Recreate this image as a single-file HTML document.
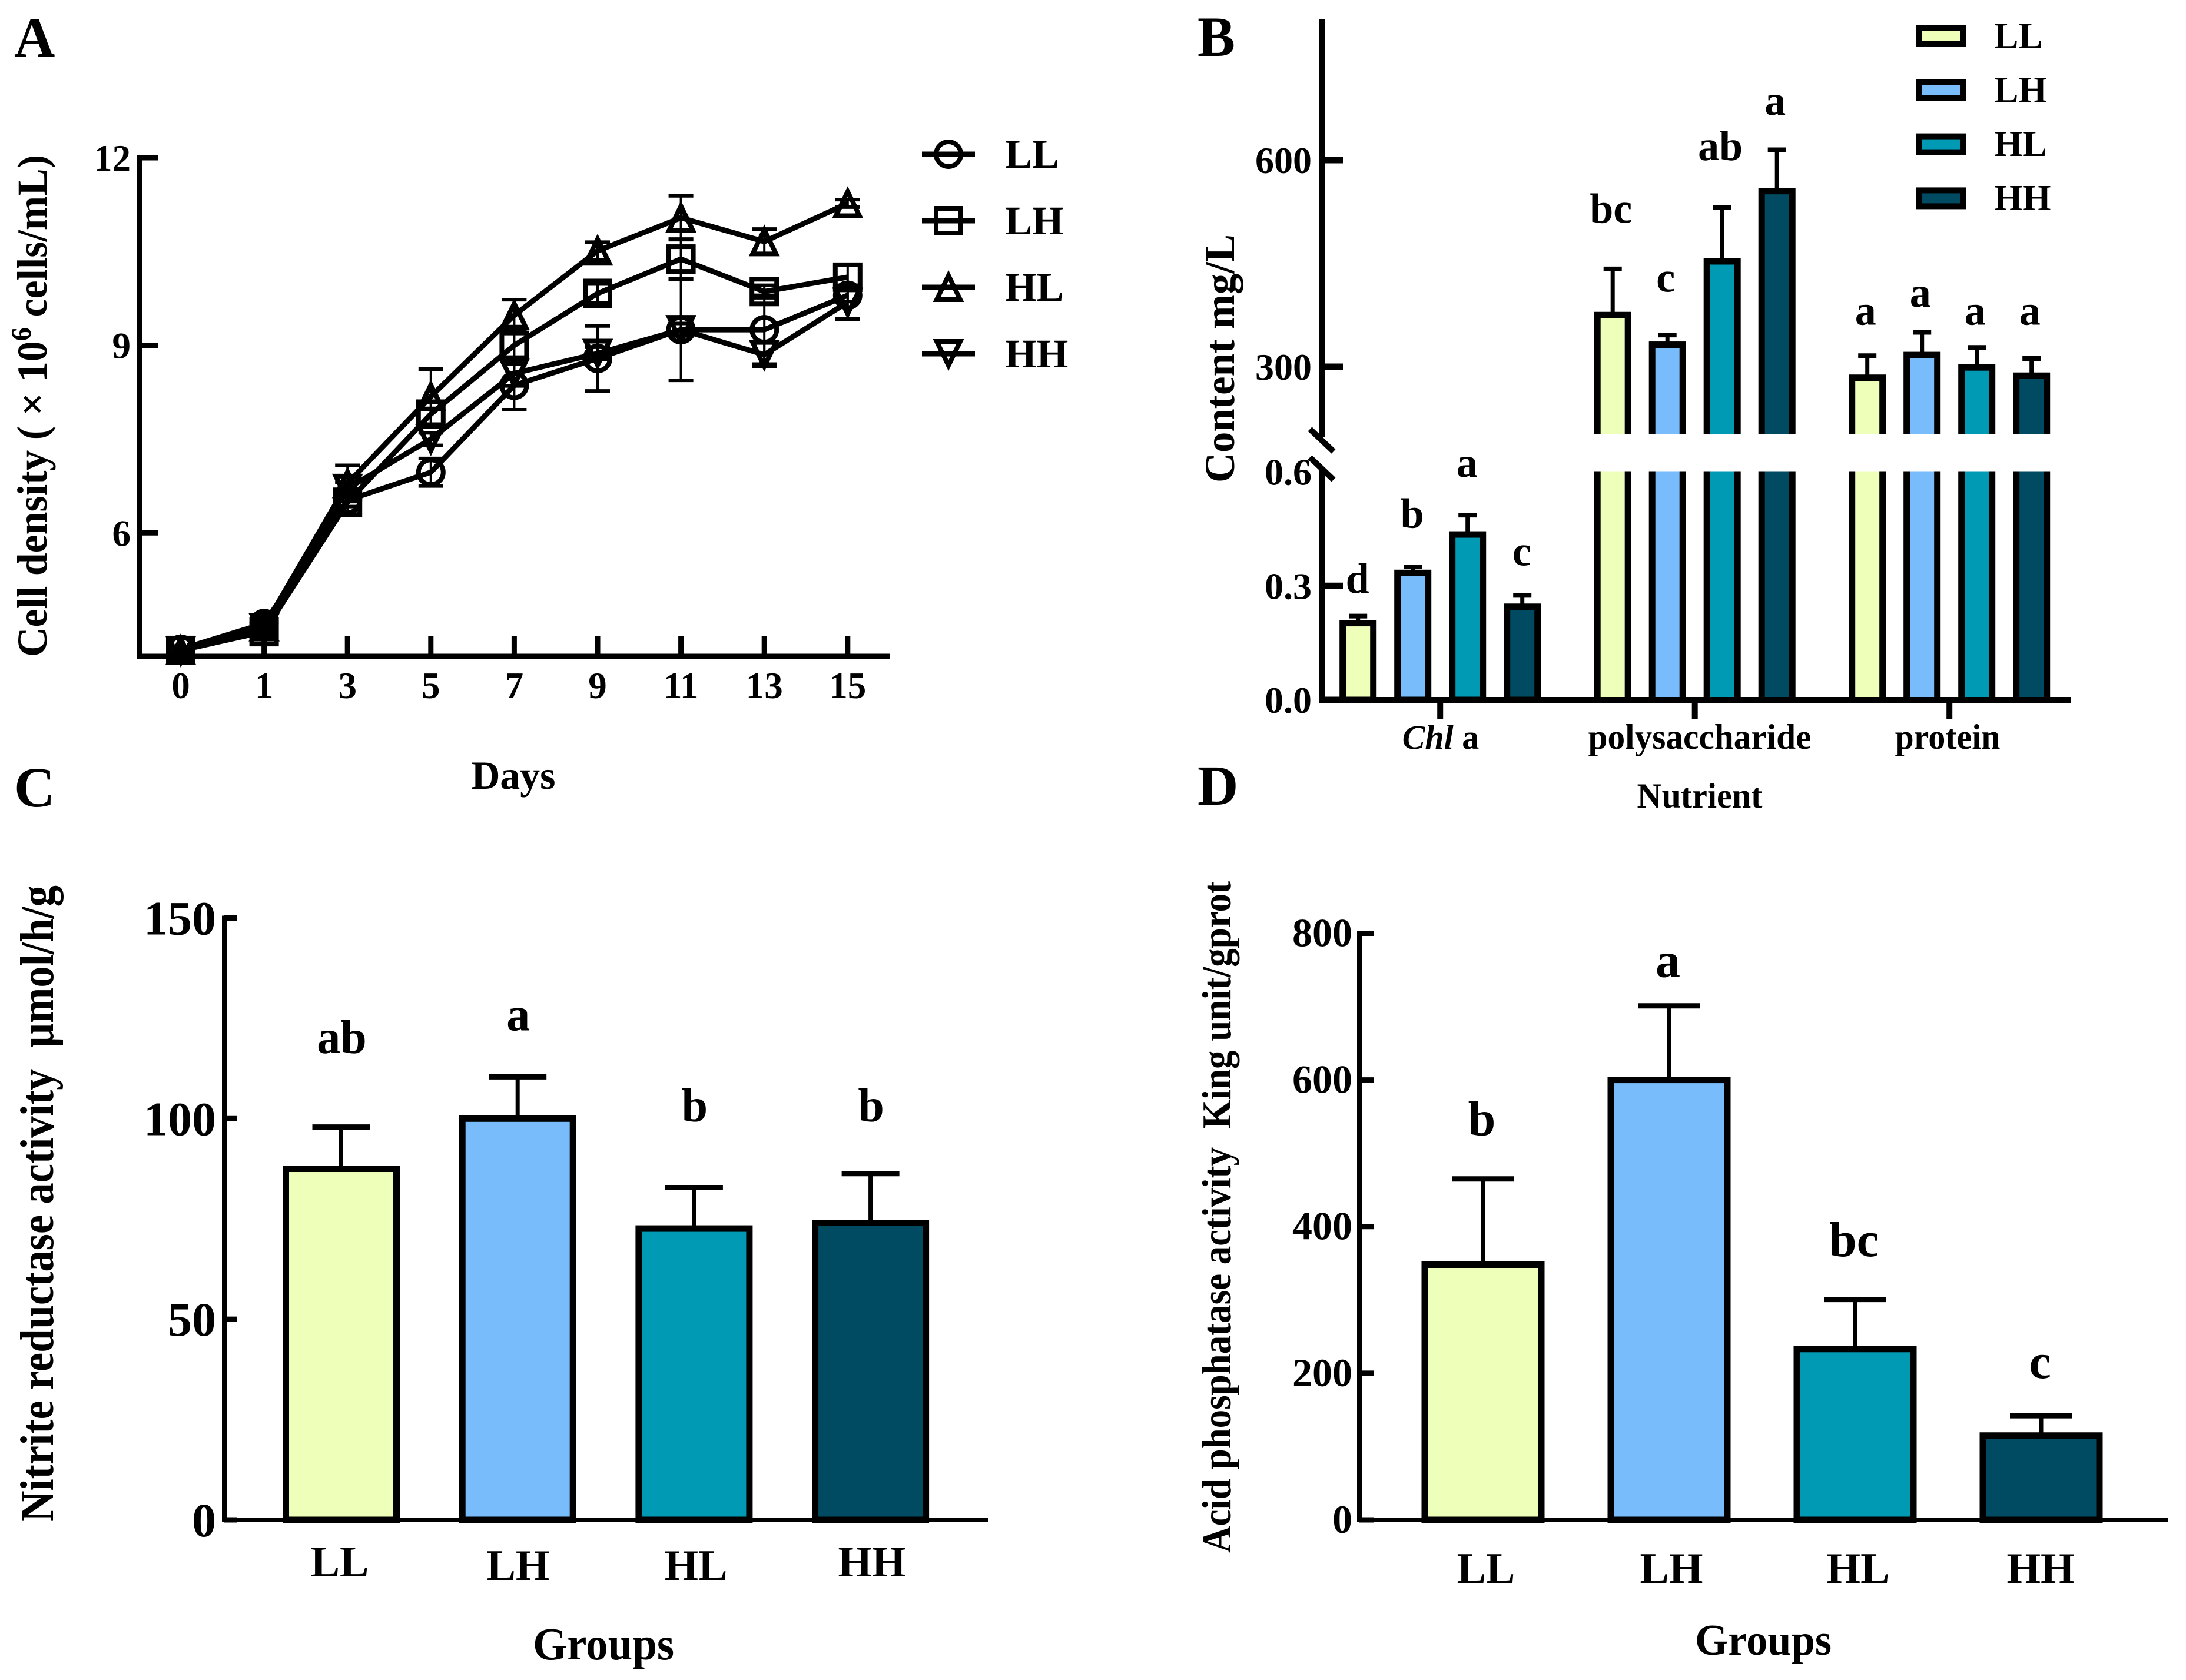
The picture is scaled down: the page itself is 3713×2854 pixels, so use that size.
<!DOCTYPE html>
<html lang="en">
<head>
<meta charset="utf-8">
<title>Cell density, nutrient content and enzyme activity by group</title>
<style>
  html, body { margin: 0; padding: 0; background: #fff; }
  svg { display: block; font-family: "Liberation Serif", "Times New Roman", serif; font-weight: bold; fill: #000; }
</style>
</head>
<body>
<svg id="figure" xmlns="http://www.w3.org/2000/svg" width="3713" height="2854" viewBox="0 0 3713 2854">
  <rect x="0" y="0" width="3713" height="2854" fill="#fff"/>

  <text x="24" y="96" font-size="96">A</text>
  <text x="2034" y="95" font-size="96">B</text>
  <text x="24" y="1370" font-size="96">C</text>
  <text x="2034" y="1367" font-size="96">D</text>

  <g id="panel-a">
    <text transform="translate(79,1116) rotate(-90)" font-size="72" textLength="853" lengthAdjust="spacingAndGlyphs">Cell density ( × 10<tspan font-size="48" dy="-27">6</tspan><tspan dy="27"> cells/mL)</tspan></text>
    <text x="872" y="1340" font-size="68" text-anchor="middle" textLength="143" lengthAdjust="spacingAndGlyphs">Days</text>
  </g>

  <g id="panel-b">
    <text transform="translate(2096,820) rotate(-90)" font-size="72" textLength="422" lengthAdjust="spacingAndGlyphs">Content mg/L</text>
    <text x="2447" y="1272" font-size="58" text-anchor="middle"><tspan font-style="italic">Chl</tspan> a</text>
    <text x="2887" y="1272" font-size="60" text-anchor="middle" textLength="379" lengthAdjust="spacingAndGlyphs">polysaccharide</text>
    <text x="3308" y="1272" font-size="60" text-anchor="middle" textLength="179" lengthAdjust="spacingAndGlyphs">protein</text>
    <text x="2887" y="1372" font-size="60" text-anchor="middle" textLength="213" lengthAdjust="spacingAndGlyphs">Nutrient</text>
  </g>

  <g id="panel-c">
    <text transform="translate(90,2585) rotate(-90)" font-size="80" textLength="1081" lengthAdjust="spacingAndGlyphs">Nitrite reductase activity&#160;&#160;μmol/h/g</text>
    <text x="577" y="2678" font-size="74" text-anchor="middle">LL</text>
    <text x="880" y="2684" font-size="74" text-anchor="middle">LH</text>
    <text x="1182" y="2684" font-size="74" text-anchor="middle">HL</text>
    <text x="1481" y="2678" font-size="74" text-anchor="middle">HH</text>
    <text x="1025" y="2819" font-size="78" text-anchor="middle" textLength="240" lengthAdjust="spacingAndGlyphs">Groups</text>
  </g>

  <g id="panel-d">
    <text transform="translate(2090,2638) rotate(-90)" font-size="70" textLength="1141" lengthAdjust="spacingAndGlyphs">Acid phosphatase activity&#160;&#160;King unit/gprot</text>
    <text x="2524" y="2689" font-size="74" text-anchor="middle">LL</text>
    <text x="2839" y="2689" font-size="74" text-anchor="middle">LH</text>
    <text x="3156" y="2689" font-size="74" text-anchor="middle">HL</text>
    <text x="3466" y="2689" font-size="74" text-anchor="middle">HH</text>
    <text x="2995" y="2811" font-size="74" text-anchor="middle" textLength="232" lengthAdjust="spacingAndGlyphs">Groups</text>
  </g>
</svg>

<script>
// ---------- Shared ----------
const groupNames = ['LL', 'LH', 'HL', 'HH'];
const groupColors = ['#edffb9', '#78bcfb', '#009ab5', '#004b62'];

// ---------- Panel A data ----------
const aDays = ['0', '1', '3', '5', '7', '9', '11', '13', '15'];
const aYTicks = [6, 9, 12];
const aMeanLL = [4.14, 4.55, 6.52, 6.97, 8.36, 8.79, 9.25, 9.25, 9.80];
const aMeanLH = [4.12, 4.42, 6.49, 7.90, 9.00, 9.83, 10.38, 9.86, 10.09];
const aMeanHL = [4.12, 4.50, 6.79, 8.18, 9.48, 10.51, 11.04, 10.66, 11.27];
const aMeanHH = [4.12, 4.48, 6.71, 7.50, 8.55, 8.87, 9.25, 8.85, 9.69];
const aErrLL = [0.04, 0.06, 0.10, 0.22, 0.39, 0.52, 0.81, 0.55, 0.10];
const aErrLH = [0.04, 0.08, 0.20, 0.20, 0.30, 0.15, 0.32, 0.10, 0.20];
const aErrHL = [0.04, 0.06, 0.29, 0.44, 0.25, 0.14, 0.35, 0.20, 0.06];
const aErrHH = [0.04, 0.06, 0.10, 0.10, 0.20, 0.10, 0.10, 0.19, 0.27];

// ---------- Panel B data ----------
const bUpperTicks = [300, 600];
const bLowerTicks = ['0.0', '0.3', '0.6'];
const bChlMeans = [0.202, 0.334, 0.435, 0.245];
const bChlErrTops = [0.2205, 0.350, 0.486, 0.275];
const bChlLetters = ['d', 'b', 'a', 'c'];
const bChlLetterLevels = [0.282, 0.453, 0.587, 0.354];
const bPolyMeans = [375, 332, 453, 555];
const bPolyErrTops = [442, 346, 531, 615];
const bPolyLetters = ['bc', 'c', 'ab', 'a'];
const bPolyLetterLevels = [509, 409, 600, 666];
const bProteinMeans = [284, 317, 299, 287];
const bProteinErrTops = [316, 350, 328, 312];
const bProteinLetters = ['a', 'a', 'a', 'a'];
const bProteinLetterLevels = [361, 387, 361, 361];

// ---------- Panel C data ----------
const cTicks = [0, 50, 100, 150];
const cMeans = [87.5, 100, 72.6, 74];
const cErrTops = [97.9, 110.4, 82.8, 86.3];
const cLetters = ['ab', 'a', 'b', 'b'];
const cLetterLevels = [116.3, 122, 99.3, 99.3];

// ---------- Panel D data ----------
const dTicks = [0, 200, 400, 600, 800];
const dMeans = [348, 600, 233, 115];
const dErrTops = [465, 701, 300.5, 142];
const dLetters = ['b', 'a', 'bc', 'c'];
const dLetterLevels = [524.5, 740.5, 359.6, 193.5];

// ---------- Axis functions ----------
const aX = i => 307 + i * 141.6;
const aY = v => 1114.5 - (v - 4.03) * (1114.5 - 268) / (12 - 4.03);
const bX = (g, s) => 2306.7 + g * 432.5 + s * 93;
const bYLower = v => 1189 - v * (1189 - 801.5) / 0.6;
const bYUpper = v => 623 - (v - 300) * (623 - 272) / 300;
const bClipTop = 738;
const bClipBottom = 800.5;
const cX = i => 579.5 + i * 299.7;
const cY = v => 2582 - v * 6.817;
const dX = i => 2519 + i * 316;
const dY = v => 2582 - v * 1.2457;

// ---------- Drawing helpers ----------
const NS = 'http://www.w3.org/2000/svg';
function mk(parent, tag, attrs, content) {
  const el = document.createElementNS(NS, tag);
  for (const k in attrs) el.setAttribute(k, attrs[k]);
  if (content !== undefined) el.textContent = content;
  parent.appendChild(el);
  return el;
}
function seg(parent, x1, y1, x2, y2, w, name) {
  const el = mk(parent, 'line', { x1, y1, x2, y2, stroke: '#000', 'stroke-width': w });
  
  
  return el;
}
function label(parent, x, y, str, size, anchor, name) {
  const el = mk(parent, 'text', { x, y, 'font-size': size, 'text-anchor': anchor }, str);
  
  
  return el;
}
function errorBar(parent, x, yFrom, yTo, capW, lineW, capH, name) {
  seg(parent, x, yFrom, x, yTo, lineW, name + '-stem');
  seg(parent, x - capW / 2, yTo, x + capW / 2, yTo, capH, name + '-cap');
}
function solidBar(parent, cx, yTop, yBase, outerW, sw, fill, name) {
  const el = mk(parent, 'rect', {
    x: cx - outerW / 2 + sw / 2, y: yTop, width: outerW - sw, height: yBase - yTop,
    fill, stroke: '#000', 'stroke-width': sw
  });
  
  
  return el;
}

// ---------- Panel A ----------
const panelA = document.getElementById('panel-a');
function marker(parent, kind, x, y, name) {
  const style = { fill: 'none', stroke: '#000', 'stroke-width': 8 };
  let el;
  if (kind === 'LL') {
    el = mk(parent, 'circle', Object.assign({ cx: x, cy: y, r: 21 }, style));
  } else if (kind === 'LH') {
    el = mk(parent, 'rect', Object.assign({ x: x - 21, y: y - 21, width: 42, height: 42 }, style));
  } else if (kind === 'HL') {
    el = mk(parent, 'polygon', Object.assign({ points: `${x},${y - 20} ${x + 20},${y + 21} ${x - 20},${y + 21}` }, style));
  } else {
    el = mk(parent, 'polygon', Object.assign({ points: `${x},${y + 20} ${x + 20},${y - 21} ${x - 20},${y - 21}` }, style));
  }
  
  
  return el;
}
const aSeries = [
  { key: 'LL', means: aMeanLL, errs: aErrLL },
  { key: 'LH', means: aMeanLH, errs: aErrLH },
  { key: 'HL', means: aMeanHL, errs: aErrHL },
  { key: 'HH', means: aMeanHH, errs: aErrHH }
];
aSeries.forEach(s => {
  const tag = s.key.toLowerCase();
  const g = mk(panelA, 'g', {});
  
  
  s.means.forEach((m, i) => {
    const x = aX(i);
    seg(g, x, aY(m - s.errs[i]), x, aY(m + s.errs[i]), 4, 'error-bar-' + tag + '-' + aDays[i]);
    seg(g, x - 21, aY(m + s.errs[i]), x + 21, aY(m + s.errs[i]), 6, 'error-cap-high-' + tag + '-' + aDays[i]);
    seg(g, x - 21, aY(m - s.errs[i]), x + 21, aY(m - s.errs[i]), 6, 'error-cap-low-' + tag + '-' + aDays[i]);
  });
  const line = mk(g, 'polyline', {
    points: s.means.map((m, i) => aX(i) + ',' + aY(m)).join(' '),
    fill: 'none', stroke: '#000', 'stroke-width': 9, 'stroke-linejoin': 'miter'
  });
  
  
  s.means.forEach((m, i) => marker(g, s.key, aX(i), aY(m), 'point-' + tag + '-' + aDays[i]));
});
seg(panelA, 237, 264, 237, 1119, 9, 'y-axis-a');
seg(panelA, 232.5, 1115, 1512, 1115, 9, 'x-axis-a');
aYTicks.forEach(t => {
  seg(panelA, 237, aY(t), 269, aY(t), 9, 'y-tick-a-' + t);
  label(panelA, 222, aY(t) + 22, String(t), 63, 'end', 'y-tick-label-a-' + t);
});
aDays.forEach((d, i) => {
  seg(panelA, aX(i), 1080, aX(i), 1115, 9, 'x-tick-a-' + d);
  label(panelA, aX(i), 1186, d, 63, 'middle', 'x-tick-label-a-' + d);
});
groupNames.forEach((n, i) => {
  const y = 262 + i * 113;
  const tag = n.toLowerCase();
  seg(panelA, 1566, y, 1656, y, 9, 'legend-line-a-' + tag);
  marker(panelA, n, 1611, y, 'legend-marker-a-' + tag);
  label(panelA, 1707, y + 23, n, 69, 'start', 'legend-label-a-' + tag);
});

// ---------- Panel B ----------
const panelB = document.getElementById('panel-b');
function lowerBar(g, s, mean, errTop, letter, level) {
  const x = bX(g, s);
  const tag = groupNames[s].toLowerCase();
  errorBar(panelB, x, bYLower(mean), bYLower(errTop), 31, 7, 8, 'error-bar-b-chl-' + tag);
  solidBar(panelB, x, bYLower(mean), 1189, 63, 11, groupColors[s], 'bar-b-chl-' + tag);
  label(panelB, x - 1, bYLower(level), letter, 72, 'middle', 'sig-letter-b-chl-' + tag);
}
function brokenBar(g, s, mean, errTop, letter, level, nutrient) {
  const x = bX(g, s);
  const tag = groupNames[s].toLowerCase();
  errorBar(panelB, x, bYUpper(mean), bYUpper(errTop), 31, 7, 8, 'error-bar-b-' + nutrient + '-' + tag);
  const top = bYUpper(mean);
  const fill = mk(panelB, 'rect', { x: x - 31.5, y: top - 5.5, width: 63, height: bClipTop - top + 5.5, fill: '#000' });
  
  
  const inner = mk(panelB, 'rect', { x: x - 20.5, y: top + 5.5, width: 41, height: bClipTop - top - 5.5, fill: groupColors[s] });
  
  
  const fill2 = mk(panelB, 'rect', { x: x - 31.5, y: bClipBottom, width: 63, height: 1189 - bClipBottom, fill: '#000' });
  
  
  const inner2 = mk(panelB, 'rect', { x: x - 20.5, y: bClipBottom, width: 41, height: 1189 - bClipBottom, fill: groupColors[s] });
  
  
  label(panelB, x - 3, bYUpper(level), letter, 72, 'middle', 'sig-letter-b-' + nutrient + '-' + tag);
}
bChlMeans.forEach((m, s) => lowerBar(0, s, m, bChlErrTops[s], bChlLetters[s], bChlLetterLevels[s]));
bPolyMeans.forEach((m, s) => brokenBar(1, s, m, bPolyErrTops[s], bPolyLetters[s], bPolyLetterLevels[s], 'polysaccharide'));
bProteinMeans.forEach((m, s) => brokenBar(2, s, m, bProteinErrTops[s], bProteinLetters[s], bProteinLetterLevels[s], 'protein'));
seg(panelB, 2245, 32, 2245, 743, 10, 'y-axis-upper-b');
seg(panelB, 2245, 793, 2245, 1194, 10, 'y-axis-lower-b');
seg(panelB, 2225, 729, 2265, 767, 10, 'axis-break-upper-b');
seg(panelB, 2225, 777, 2265, 815, 10, 'axis-break-lower-b');
seg(panelB, 2240, 1189, 3518, 1189, 10, 'x-axis-b');
bUpperTicks.forEach(t => {
  seg(panelB, 2245, bYUpper(t), 2281, bYUpper(t), 11, 'y-tick-b-' + t);
  label(panelB, 2228, bYUpper(t) + 22, String(t), 64, 'end', 'y-tick-label-b-' + t);
});
bLowerTicks.forEach(t => {
  if (t !== '0.6') seg(panelB, 2245, bYLower(+t), 2281, bYLower(+t), 11, 'y-tick-b-' + t);
  label(panelB, 2228, bYLower(+t) + 22, t, 64, 'end', 'y-tick-label-b-' + t);
});
[0, 1, 2].forEach(g => {
  seg(panelB, bX(g, 1.5), 1189, bX(g, 1.5), 1222, 10, 'x-tick-b-' + g);
});
groupNames.forEach((n, i) => {
  const y = 61.5 + i * 91.8;
  const tag = n.toLowerCase();
  const sw = mk(panelB, 'rect', { x: 3259, y: y - 13.5, width: 75, height: 27, fill: groupColors[i], stroke: '#000', 'stroke-width': 10 });
  
  
  label(panelB, 3387, y + 20, n, 62, 'start', 'legend-label-b-' + tag);
});

// ---------- Panel C ----------
const panelC = document.getElementById('panel-c');
cMeans.forEach((m, i) => {
  const tag = groupNames[i].toLowerCase();
  errorBar(panelC, cX(i), cY(m), cY(cErrTops[i]), 98, 7, 9, 'error-bar-c-' + tag);
  solidBar(panelC, cX(i), cY(m), 2582, 199, 11, groupColors[i], 'bar-c-' + tag);
  label(panelC, cX(i) + 1, cY(cLetterLevels[i]), cLetters[i], 80, 'middle', 'sig-letter-c-' + tag);
});
seg(panelC, 381, 1555.5, 381, 2586, 8, 'y-axis-c');
seg(panelC, 377, 2582, 1678, 2582, 8, 'x-axis-c');
cTicks.forEach(t => {
  seg(panelC, 381, cY(t), 402, cY(t), 9, 'y-tick-c-' + t);
  label(panelC, 367, cY(t) + 28, String(t), 82, 'end', 'y-tick-label-c-' + t);
});

// ---------- Panel D ----------
const panelD = document.getElementById('panel-d');
dMeans.forEach((m, i) => {
  const tag = groupNames[i].toLowerCase();
  errorBar(panelD, dX(i), dY(m), dY(dErrTops[i]), 106, 7, 9, 'error-bar-d-' + tag);
  solidBar(panelD, dX(i), dY(m), 2582, 209, 11, groupColors[i], 'bar-d-' + tag);
  label(panelD, dX(i) - 2, dY(dLetterLevels[i]), dLetters[i], 84, 'middle', 'sig-letter-d-' + tag);
});
seg(panelD, 2309, 1581, 2309, 2586, 8, 'y-axis-d');
seg(panelD, 2305, 2582, 3682, 2582, 8, 'x-axis-d');
dTicks.forEach(t => {
  seg(panelD, 2309, dY(t), 2333, dY(t), 9, 'y-tick-d-' + t);
  label(panelD, 2297, dY(t) + 22, String(t), 68, 'end', 'y-tick-label-d-' + t);
});
</script>
</body>
</html>
